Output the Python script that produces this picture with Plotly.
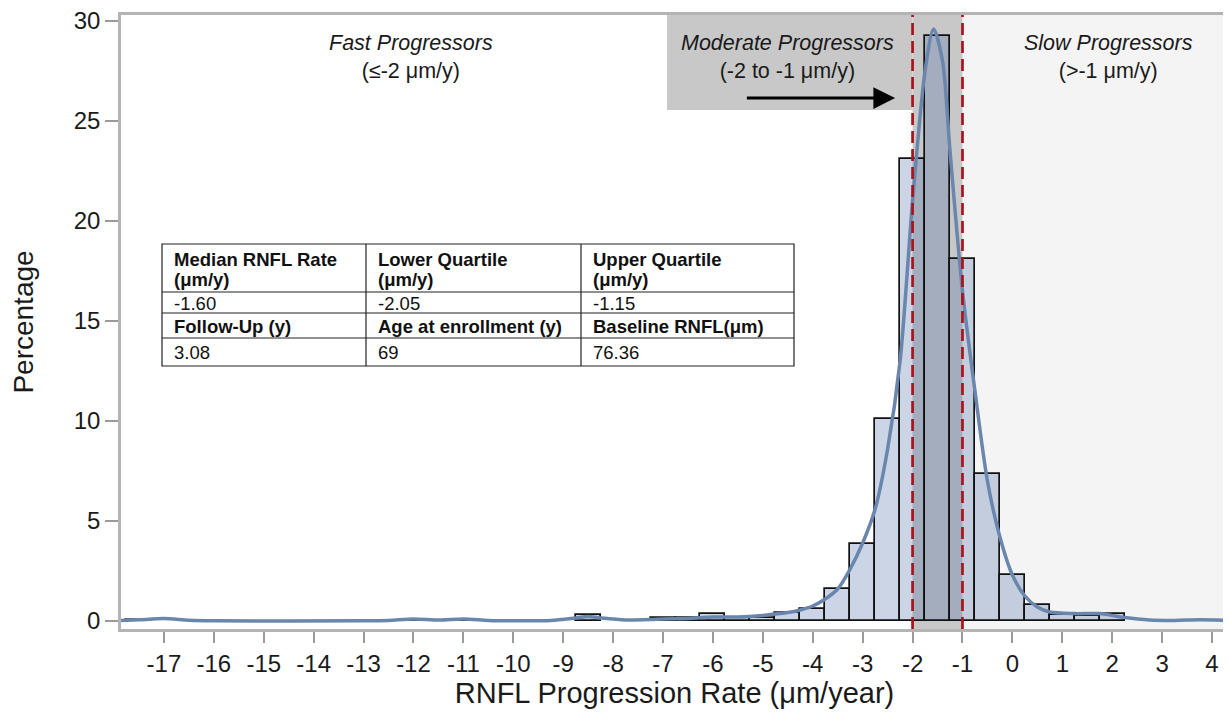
import plotly.graph_objects as go

# ---- data ----
bin_centers = [-17.5, -12.0, -11.0, -8.5, -7.0, -6.5, -6.0, -5.5, -5.0, -4.5, -4.0, -3.5,
               -3.0, -2.5, -2.0, -1.5, -1.0, -0.5, 0.0, 0.5, 1.0, 1.5, 2.0]
bin_pct = [0.05, 0.05, 0.05, 0.30, 0.13, 0.13, 0.37, 0.13, 0.17, 0.40, 0.60, 1.58,
           3.85, 10.1, 23.1, 29.25, 18.1, 7.35, 2.3, 0.78, 0.30, 0.27, 0.35]
bin_width = 0.5

kde_x = [-17.86, -17.5, -17.0, -16.5, -16.0, -13.0, -12.5, -12.0, -11.5, -11.0, -10.5, -10.0,
         -9.25, -8.75, -8.5, -8.25, -7.75, -7.25, -7.0, -6.5, -6.0, -5.5, -5.0, -4.5, -4.25,
         -4.0, -3.75, -3.5, -3.25, -3.0, -2.75, -2.5, -2.25, -2.0, -1.75, -1.58, -1.4, -1.25,
         -1.0, -0.75, -0.5, -0.25, 0.0, 0.25, 0.5, 0.75, 1.25, 1.75, 2.25, 2.75, 3.25, 3.75, 4.32]
kde_y = [0.02, 0.06, 0.12, 0.04, 0.01, 0.01, 0.03, 0.10, 0.05, 0.10, 0.03, 0.01,
         0.03, 0.15, 0.22, 0.15, 0.05, 0.07, 0.10, 0.12, 0.20, 0.20, 0.28, 0.42, 0.55,
         0.75, 1.1, 1.6, 2.6, 3.9, 5.6, 8.6, 13.0, 21.0, 27.5, 29.6, 28.0, 23.5,
         16.5, 11.5, 7.0, 4.2, 2.3, 1.25, 0.70, 0.45, 0.37, 0.37, 0.17, 0.05, 0.03, 0.06, 0.03]

x_ticks = list(range(-17, 5))
y_ticks = [0, 5, 10, 15, 20, 25, 30]
x_range = [-17.86, 4.32]
y_range = [-0.4, 30.3]

fast_cut = -2
slow_cut = -1

# summary table: header (two bold lines per column), then three body rows
table_header_l1 = ["Median RNFL Rate", "Lower Quartile", "Upper Quartile"]
table_header_l2 = ["(μm/y)", "(μm/y)", "(μm/y)"]
table_row1 = ["-1.60", "-2.05", "-1.15"]
table_row2 = ["Follow-Up (y)", "Age at enrollment (y)", "Baseline RNFL(μm)"]
table_row3 = ["3.08", "69", "76.36"]

FONT = "Liberation Sans, Arial, Helvetica, sans-serif"

# ---- layout geometry (page pixels; the page body adds an 8px offset) ----
PAGE_OFF = 8
PLOT_L, PLOT_R, PLOT_T, PLOT_B = 121, 1228, 15, 629
FIG_W, FIG_H = 1231 - PAGE_OFF, 719 - PAGE_OFF


def px(x):
    return (x - PLOT_L) / (PLOT_R - PLOT_L)


def py(y):
    return (PLOT_B - y) / (PLOT_B - PLOT_T)


fig = go.Figure()

fig.add_trace(go.Bar(
    x=bin_centers, y=bin_pct, width=bin_width,
    marker=dict(color="rgba(63,100,159,0.27)", line=dict(color="#111111", width=1.7)),
    showlegend=False, hoverinfo="x+y",
))

fig.add_trace(go.Scatter(
    x=kde_x, y=kde_y, mode="lines",
    line=dict(color="#6a86ad", width=3.5, shape="spline", smoothing=0.8),
    showlegend=False,
))

shapes = [
    dict(type="rect", xref="x", yref="paper", x0=slow_cut, x1=x_range[1], y0=0, y1=1,
         fillcolor="#f4f4f4", line=dict(width=0), layer="below"),
    dict(type="rect", xref="x", yref="y", x0=-6.92, x1=fast_cut, y0=25.55, y1=y_range[1],
         fillcolor="#c8c8c8", line=dict(width=0), layer="below"),
    dict(type="rect", xref="x", yref="paper", x0=fast_cut, x1=slow_cut, y0=0, y1=1,
         fillcolor="#c8c8c8", line=dict(width=0), layer="below"),
    dict(type="line", xref="x", yref="paper", x0=fast_cut, x1=fast_cut, y0=0, y1=1,
         line=dict(color="#a8141b", width=2.7, dash="12px,6px"), layer="above"),
    dict(type="line", xref="x", yref="paper", x0=slow_cut, x1=slow_cut, y0=0, y1=1,
         line=dict(color="#a8141b", width=2.7, dash="12px,6px"), layer="above"),
]

annotations = [
    dict(x=-12.05, y=28.2, xref="x", yref="y", showarrow=False,
         text="<i>Fast Progressors</i><br>(≤-2 μm/y)",
         font=dict(family=FONT, size=21.5, color="#1a1a1a"), align="center"),
    dict(x=-4.5, y=28.2, xref="x", yref="y", showarrow=False,
         text="<i>Moderate Progressors</i><br>(-2 to -1 μm/y)",
         font=dict(family=FONT, size=21.5, color="#1a1a1a"), align="center"),
    dict(x=1.93, y=28.2, xref="x", yref="y", showarrow=False,
         text="<i>Slow Progressors</i><br>(>-1 μm/y)",
         font=dict(family=FONT, size=21.5, color="#1a1a1a"), align="center"),
    dict(x=-2.35, y=26.15, ax=-5.35, ay=26.15, xref="x", yref="y", axref="x", ayref="y",
         text="", showarrow=True, arrowhead=2, arrowsize=1.45, arrowwidth=3, arrowcolor="#000000"),
]

# ---- table drawn with shapes + annotations ----
col_edges = [162, 366, 581, 794]
row_edges = [244, 292, 313, 338, 366]
shapes.append(dict(type="rect", xref="paper", yref="paper",
                   x0=px(col_edges[0]), x1=px(col_edges[-1]), y0=py(row_edges[-1]), y1=py(row_edges[0]),
                   fillcolor="white", line=dict(color="#222222", width=1.2), layer="above"))
for xe in col_edges[1:-1]:
    shapes.append(dict(type="line", xref="paper", yref="paper", x0=px(xe), x1=px(xe),
                       y0=py(row_edges[-1]), y1=py(row_edges[0]),
                       line=dict(color="#222222", width=1.2), layer="above"))
for ye in row_edges[1:-1]:
    shapes.append(dict(type="line", xref="paper", yref="paper", x0=px(col_edges[0]), x1=px(col_edges[-1]),
                       y0=py(ye), y1=py(ye), line=dict(color="#222222", width=1.2), layer="above"))

table_lines = [
    (table_header_l1, 260, True),
    (table_header_l2, 279, True),
    (table_row1, 303.5, False),
    (table_row2, 326, True),
    (table_row3, 352.5, False),
]
for texts, yc, bold in table_lines:
    for ci, t in enumerate(texts):
        annotations.append(dict(
            x=px(col_edges[ci] + 10), y=py(yc), xref="paper", yref="paper",
            xanchor="left", yanchor="middle", showarrow=False,
            text=("<b>%s</b>" % t) if bold else t,
            font=dict(family=FONT, size=18.5, color="#111111"),
        ))

fig.update_layout(
    width=FIG_W, height=FIG_H,
    margin=dict(l=PLOT_L - PAGE_OFF, r=FIG_W - (PLOT_R - PAGE_OFF), t=PLOT_T - PAGE_OFF,
                b=FIG_H - (PLOT_B - PAGE_OFF), autoexpand=False),
    paper_bgcolor="white", plot_bgcolor="white",
    font=dict(family=FONT, color="#1a1a1a"),
    shapes=shapes, annotations=annotations,
    bargap=0, showlegend=False,
    xaxis=dict(range=x_range, tickvals=x_ticks, ticktext=[str(v) for v in x_ticks],
               automargin=False, ticklabeloverflow="allow",
               ticks="outside", ticklen=11, tickwidth=1.5, tickcolor="#9a9a9a",
               showline=True, linecolor="#b4b4b4", linewidth=2.5, mirror=True,
               showgrid=False, zeroline=False,
               tickfont=dict(family=FONT, size=24, color="#1a1a1a"),
               title=dict(text="RNFL Progression Rate (μm/year)", standoff=8,
                          font=dict(family=FONT, size=29, color="#1a1a1a"))),
    yaxis=dict(range=y_range, tickvals=y_ticks, automargin=False, ticklabeloverflow="allow",
               ticks="outside", ticklen=13, tickwidth=1.5, tickcolor="#9a9a9a",
               showline=True, linecolor="#b4b4b4", linewidth=2.5, mirror=True,
               showgrid=False, zeroline=False,
               tickfont=dict(family=FONT, size=24, color="#1a1a1a"),
               title=dict(text="Percentage", standoff=34,
                          font=dict(family=FONT, size=28, color="#1a1a1a"))),
)

fig.write_html("out.html")
